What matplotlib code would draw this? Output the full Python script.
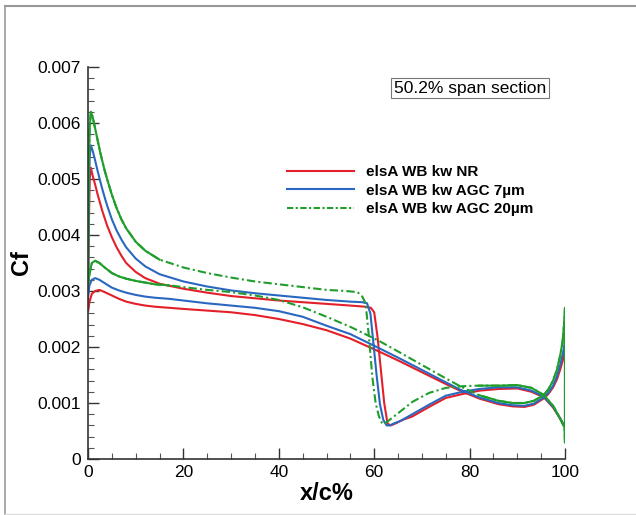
import numpy as np
import matplotlib
matplotlib.use("Agg")
import matplotlib.pyplot as plt
from matplotlib.lines import Line2D

plt.rcParams['font.family'] = ['Liberation Sans', 'DejaVu Sans']

# ---------------- data ----------------
labels = ["elsA WB kw NR", "elsA WB kw AGC 7µm", "elsA WB kw AGC 20µm"]

nr_up_x = [0, 0.15, 0.35, 0.6, 1.0, 1.5, 2.0, 2.5, 3, 3.5, 4, 5, 6, 7, 8, 10, 12, 15, 20, 25, 30, 35,
           40, 45, 50, 55, 58, 59.3, 60.0, 60.7, 61.4, 62.1, 62.8, 63.5, 64.6, 66, 68, 71.5, 75, 78.5,
           82, 86, 90, 93, 95.6, 97.5, 99, 99.7, 100]
nr_up_cf = [0.00263, 0.0040, 0.0050, 0.0052, 0.00505, 0.0049, 0.00473, 0.00458, 0.00443, 0.0043,
            0.00417, 0.00396, 0.00378, 0.00363, 0.0035, 0.00334, 0.00323, 0.00313, 0.00304, 0.00297,
            0.00291, 0.00287, 0.00283, 0.0028, 0.00277, 0.00274, 0.00272, 0.0027, 0.00262, 0.00218,
            0.00159, 0.0010, 0.00063, 0.0006, 0.00064, 0.0007, 0.00076, 0.00093, 0.00109, 0.00116,
            0.00122, 0.00125, 0.00126, 0.0012, 0.0011, 0.00092, 0.00072, 0.0006, 0.00057]

lo_x = [0, 0.3, 0.8, 1.5, 2.4, 3.5, 5, 6.5, 8, 10, 12, 14, 17, 20, 25, 30, 35, 40, 45, 50, 55, 61, 65,
        70, 75, 78, 82, 86, 89, 91.5, 93.5, 95.5, 96.5, 97.5, 98.3, 99.0, 99.5, 99.8, 100]
nr_lo_cf = [0.00263, 0.0028, 0.00295, 0.0030, 0.00302, 0.00298, 0.00292, 0.00286, 0.00281, 0.00277,
            0.00274, 0.00272, 0.0027, 0.00268, 0.00265, 0.00262, 0.00257, 0.0025, 0.00241, 0.0023,
            0.00215, 0.00192, 0.00176, 0.00155, 0.00134, 0.00122, 0.00108, 0.00098, 0.00094, 0.00093,
            0.00097, 0.00108, 0.00116, 0.00128, 0.00142, 0.0016, 0.00175, 0.0019, 0.0020]

agc7_up_x = [0, 0.15, 0.35, 0.6, 1.0, 1.5, 2.0, 2.5, 3, 3.5, 4, 5, 6, 7, 8, 10, 12, 15, 20, 25, 30, 35,
             40, 45, 50, 55, 57.5, 58.5, 59.2, 59.8, 60.5, 61.2, 61.9, 62.6, 63.3, 64, 65.5, 68, 71.5,
             75, 78.5, 82, 86, 90, 93, 95.6, 97.5, 99, 99.7, 100]
agc7_up_cf = [0.0029, 0.0045, 0.0054, 0.0056, 0.0055, 0.00533, 0.00515, 0.00498, 0.00482, 0.00467,
              0.00453, 0.00428, 0.00408, 0.00392, 0.00378, 0.00358, 0.00344, 0.0033, 0.00317, 0.00308,
              0.00301, 0.00296, 0.00292, 0.00288, 0.00284, 0.00281, 0.0028, 0.00278, 0.0026, 0.0021,
              0.0015, 0.00098, 0.0007, 0.0006, 0.0006, 0.00063, 0.00068, 0.0008, 0.00097, 0.00113,
              0.0012, 0.00125, 0.00128, 0.00128, 0.00122, 0.00111, 0.00093, 0.00072, 0.00062, 0.0006]
agc7_lo_cf = [0.0029, 0.0031, 0.0032, 0.00323, 0.0032, 0.00314, 0.00306, 0.00301, 0.00297, 0.00293,
              0.0029, 0.00288, 0.00286, 0.00283, 0.00278, 0.00274, 0.0027, 0.00264, 0.00254, 0.00238,
              0.00223, 0.00198, 0.00181, 0.00159, 0.00137, 0.00124, 0.0011, 0.0010, 0.00096, 0.00095,
              0.00099, 0.0011, 0.00118, 0.00131, 0.00147, 0.00168, 0.00186, 0.0020, 0.0021]

agc20_up_x = [0, 0.15, 0.35, 0.6, 1.0, 1.5, 2.0, 2.5, 3, 3.5, 4, 5, 6, 7, 8, 10, 12, 15, 20, 25, 30, 35,
              40, 45, 50, 54, 56.5, 57.5, 58.2, 58.9, 59.6, 60.3, 61.0, 61.7, 62.5, 64.6, 68, 71.5, 75,
              78.5, 82, 86, 90, 93, 95.6, 97.5, 99, 99.7, 99.9, 100]
agc20_up_cf = [0.0031, 0.0050, 0.0059, 0.0062, 0.0061, 0.0059, 0.0057, 0.0055, 0.00532, 0.00515,
               0.0050, 0.00472, 0.00448, 0.00428, 0.00412, 0.00388, 0.00372, 0.00356, 0.00342, 0.00332,
               0.00324, 0.00317, 0.00312, 0.00307, 0.00302, 0.0030, 0.00298, 0.0029, 0.00278, 0.00218,
               0.00147, 0.0010, 0.00076, 0.00063, 0.00065, 0.00079, 0.00102, 0.00118, 0.00127, 0.0013,
               0.00131, 0.00131, 0.00132, 0.00127, 0.00114, 0.00095, 0.00072, 0.0006, 0.00057, 0.0003]
agc20_lo_cf = [0.0031, 0.0033, 0.0035, 0.00354, 0.0035, 0.00342, 0.00332, 0.00326, 0.00322, 0.00318,
               0.00315, 0.00312, 0.0031, 0.00307, 0.00302, 0.00298, 0.00292, 0.00284, 0.00271, 0.00254,
               0.00236, 0.00211, 0.00192, 0.00168, 0.00144, 0.0013, 0.00114, 0.00104, 0.0010, 0.0010,
               0.00104, 0.00114, 0.00124, 0.0014, 0.00159, 0.00185, 0.0021, 0.0024, 0.0027]

x_ticks = [0, 20, 40, 60, 80, 100]
y_ticks = [0, 0.001, 0.002, 0.003, 0.004, 0.005, 0.006, 0.007]
y_ticklabels = ["0", "0.001", "0.002", "0.003", "0.004", "0.005", "0.006", "0.007"]

colors = ["#e3202a", "#2a68c0", "#1f9e2c"]


def loop(ux, ucf, lx, lcf):
    ux, ucf, lx, lcf = map(np.asarray, (ux, ucf, lx, lcf))
    xs = np.concatenate([ux[::-1], lx[1:], ux[-1:]])
    ys = np.concatenate([ucf[::-1], lcf[1:], ucf[-1:]])
    return xs, ys


fig = plt.figure(figsize=(6.36, 5.15), dpi=100)
ax = fig.add_axes([88 / 636, 1 - 459 / 515, (565 - 88) / 636, (459 - 67) / 515])

lw = 1.5
xr, yr = loop(nr_up_x, nr_up_cf, lo_x, nr_lo_cf)
ax.plot(xr, yr, color=colors[0], lw=lw, solid_joinstyle='round')
xb, yb = loop(agc7_up_x, agc7_up_cf, lo_x, agc7_lo_cf)
ax.plot(xb, yb, color=colors[1], lw=lw, solid_joinstyle='round')
xg, yg = loop(agc20_up_x, agc20_up_cf, lo_x, agc20_lo_cf)
dash = (0, (4, 1.5, 1, 1.5))
ax.plot(xg, yg, color=colors[2], lw=lw, linestyle=dash)
solid_mask = (xg <= 18) | (xg >= 79)
ax.plot(xg, np.where(solid_mask, yg, np.nan), color=colors[2], lw=lw, solid_joinstyle='round')

ax.set_xlim(0, 100)
ax.set_ylim(0, 0.007)
ax.set_xticks(x_ticks)
ax.set_yticks(y_ticks)
ax.set_yticklabels(y_ticklabels)
ax.set_xticks(np.arange(0, 101, 5), minor=True)
ax.set_yticks(np.arange(0, 0.00701, 0.0002), minor=True)
for s in ['top', 'right']:
    ax.spines[s].set_visible(False)
for s in ['left', 'bottom']:
    ax.spines[s].set_color('#333333')
    ax.spines[s].set_linewidth(1.2)
ax.tick_params(which='major', direction='in', length=8, width=1.0, color='#333333',
               labelsize=12.5, pad=4)
ax.tick_params(which='minor', direction='in', length=4, width=0.8, color='#555555')
ax.tick_params(axis='y', which='major', pad=5)
ax.set_xlabel("x/c%", fontsize=17, fontweight='bold', labelpad=2)
ax.set_ylabel("Cf", fontsize=17, fontweight='bold', labelpad=3)

handles = [Line2D([], [], color=colors[0], lw=lw),
           Line2D([], [], color=colors[1], lw=lw),
           Line2D([], [], color=colors[2], lw=lw, linestyle=(0, (3, 1.2, 1, 1.2)))]
leg = fig.legend(handles, labels, loc='upper left', bbox_to_anchor=(287 / 636, 1 - 165 / 515),
                 frameon=False, prop={'size': 11, 'weight': 'bold'}, handlelength=4.4,
                 handletextpad=0.8, labelspacing=0.3, borderpad=0, borderaxespad=0)

fig.text(470 / 636, 1 - 88 / 515, "50.2% span section", fontsize=12.5, ha='center', va='center',
         bbox=dict(boxstyle='square,pad=0.15', fc='white', ec='#777777', lw=0.8))

# figure frame
fig.add_artist(Line2D([5 / 636, 1], [1 - 5.5 / 515] * 2, transform=fig.transFigure, color='#999999', lw=1.5))
fig.add_artist(Line2D([5 / 636] * 2, [1 - 5.5 / 515, 1 - 514 / 515], transform=fig.transFigure,
                      color='#999999', lw=1.2))
fig.add_artist(Line2D([5 / 636, 1], [1 - 513.5 / 515] * 2, transform=fig.transFigure, color='#dddddd', lw=1))

fig.savefig("out.png", dpi=100)
